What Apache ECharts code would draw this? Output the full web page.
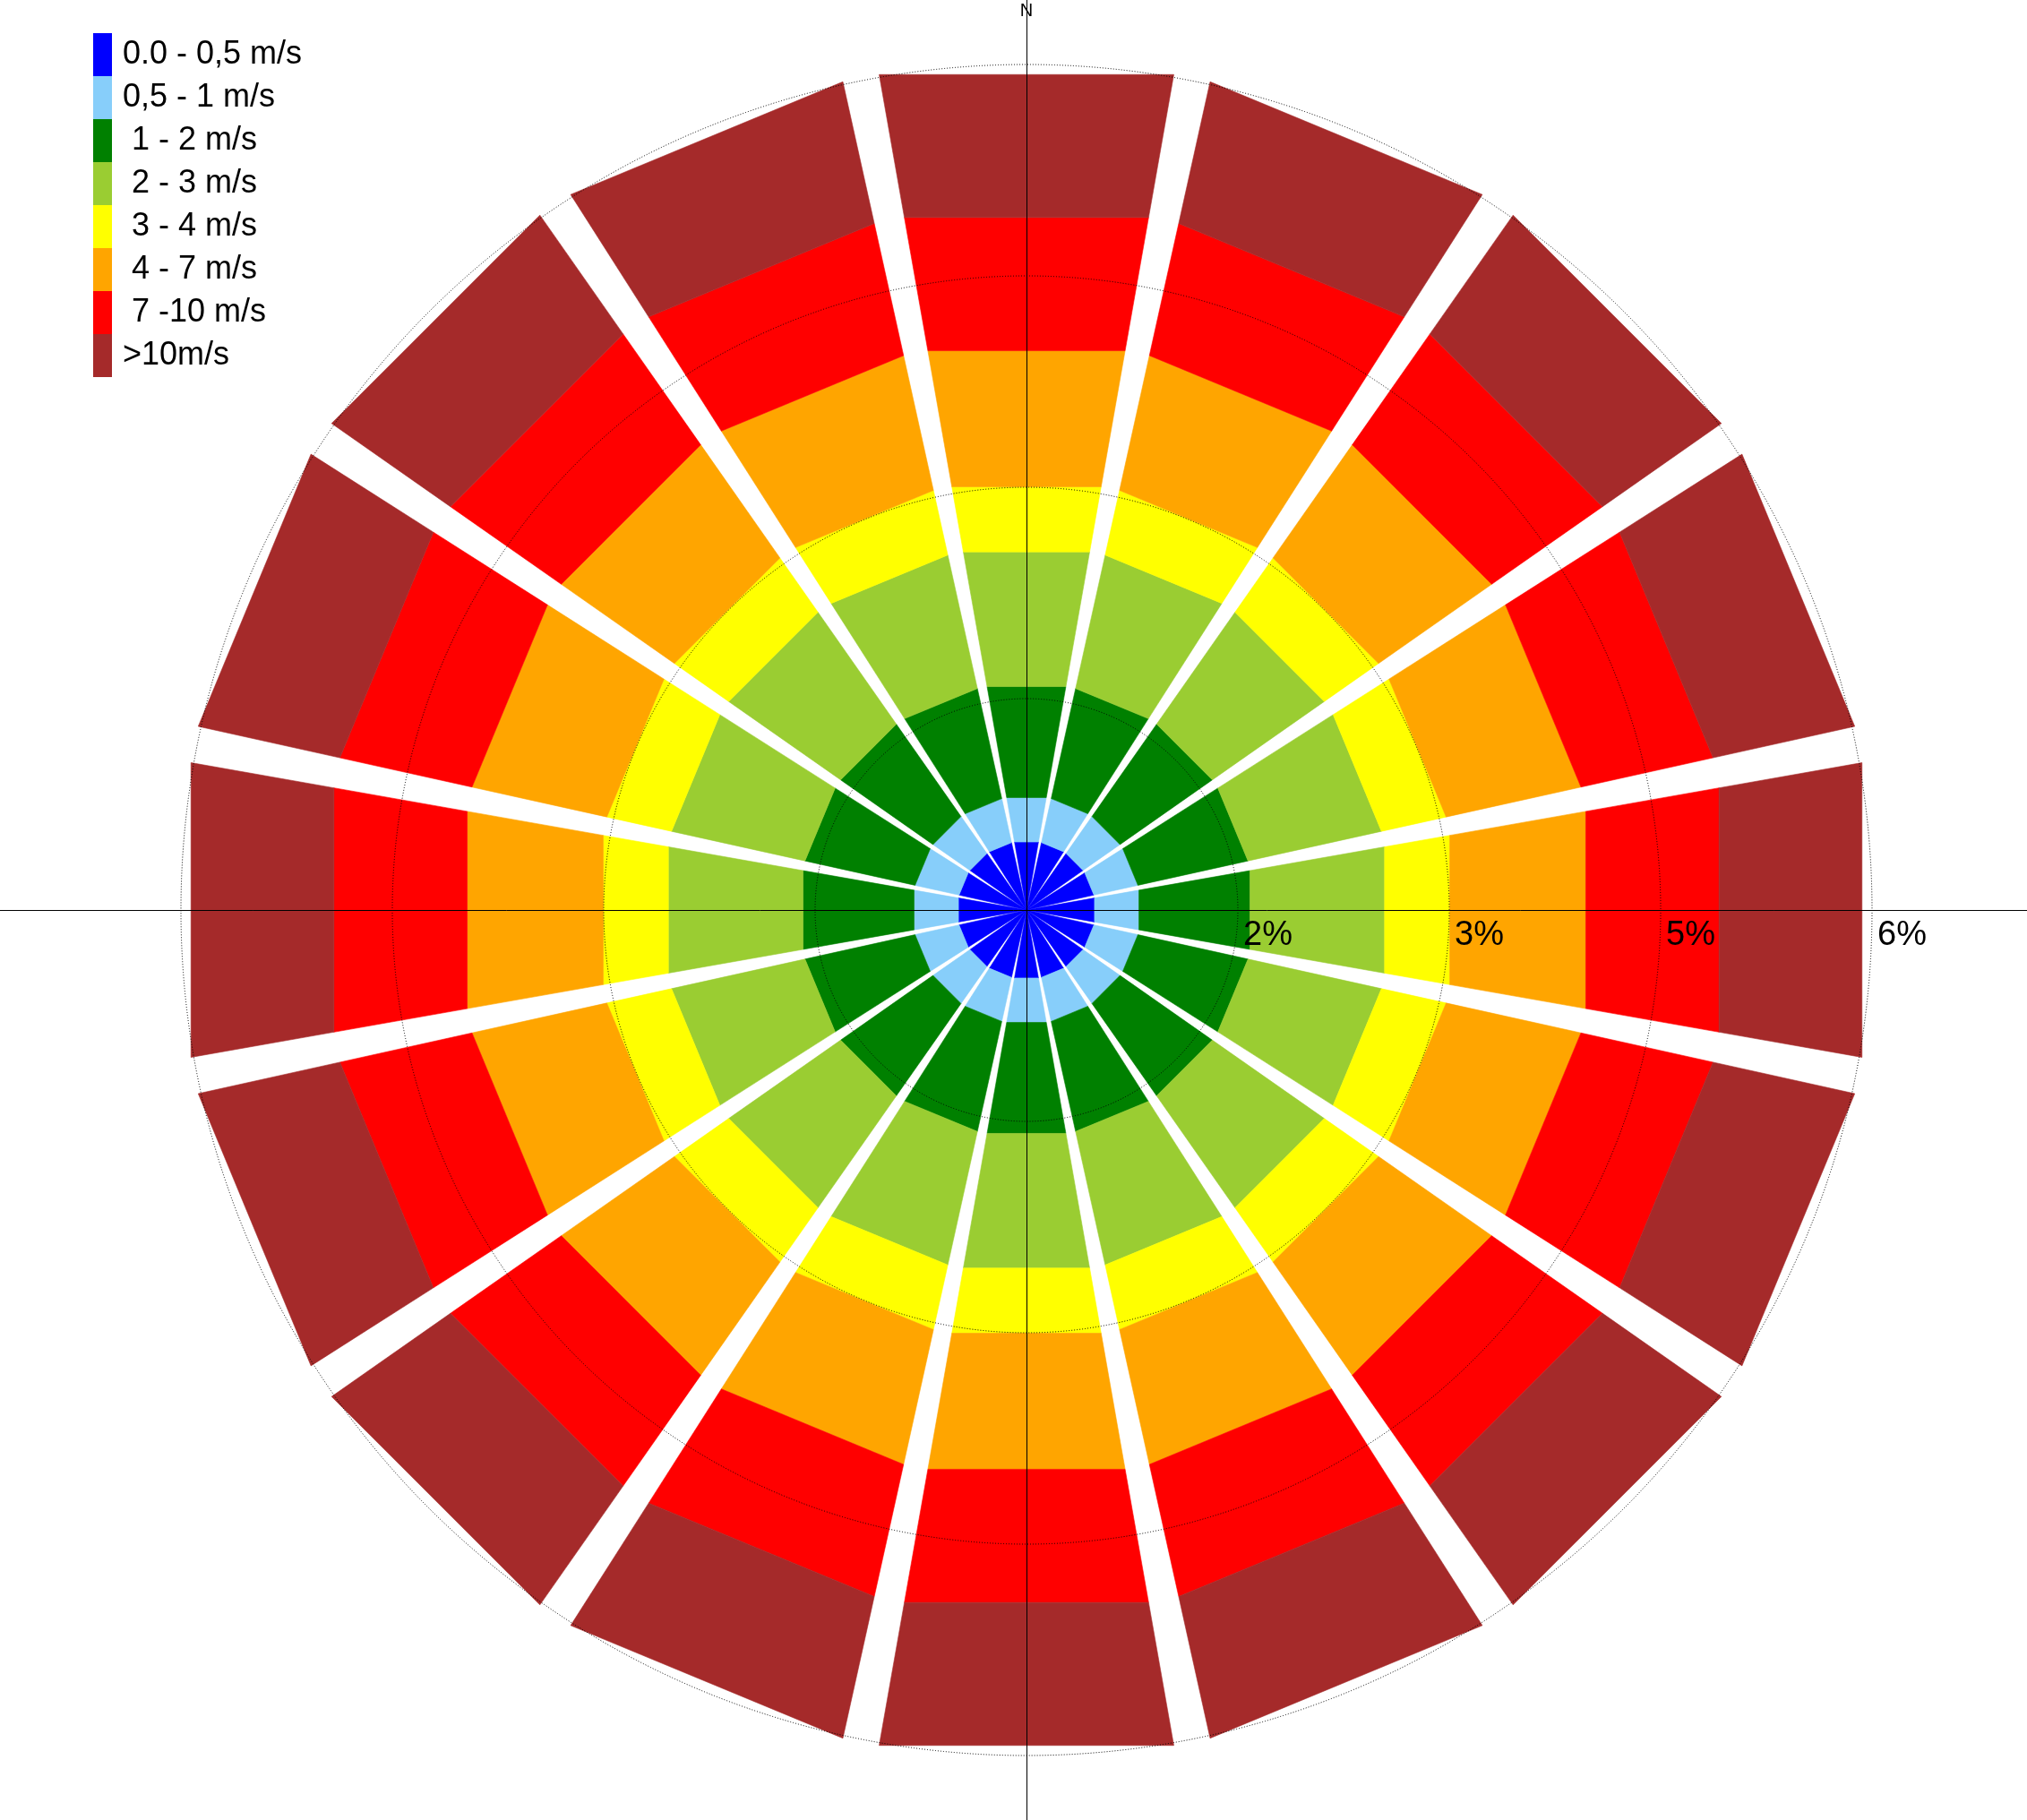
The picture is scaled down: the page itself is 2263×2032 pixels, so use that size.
<!DOCTYPE html>
<html>
<head>
<meta charset="utf-8">
<script src="https://cdn.jsdelivr.net/npm/echarts@6/dist/echarts.min.js"></script>
<style>
  html, body { margin: 0; padding: 0; background: #fff; }
  #roseChart { width: 2263px; height: 2032px; }
</style>
</head>
<body>
<div id="roseChart"></div>
<script>
// wind directions, clockwise from north
const directions = ['N', 'NNE', 'NE', 'ENE', 'E', 'ESE', 'SE', 'SSE', 'S', 'SSW', 'SW', 'WSW', 'W', 'WNW', 'NW', 'NNW'];
const speedClasses = ['0.0 - 0,5 m/s', '0,5 - 1 m/s', ' 1 - 2 m/s', ' 2 - 3 m/s', ' 3 - 4 m/s', ' 4 - 7 m/s', ' 7 -10 m/s', '>10m/s'];
const classColors = ['#0000ff', '#87cefa', '#008000', '#9acd32', '#ffff00', '#ffa500', '#ff0000', '#a52a2a'];

// frequency (%) of each speed class per direction
const freq0to05 = [0.49, 0.49, 0.49, 0.49, 0.49, 0.49, 0.49, 0.49, 0.49, 0.49, 0.49, 0.49, 0.49, 0.49, 0.49, 0.49];
const freq05to1 = [0.32, 0.32, 0.32, 0.32, 0.32, 0.32, 0.32, 0.32, 0.32, 0.32, 0.32, 0.32, 0.32, 0.32, 0.32, 0.32];
const freq1to2 = [0.80, 0.80, 0.80, 0.80, 0.80, 0.80, 0.80, 0.80, 0.80, 0.80, 0.80, 0.80, 0.80, 0.80, 0.80, 0.80];
const freq2to3 = [0.97, 0.97, 0.97, 0.97, 0.97, 0.97, 0.97, 0.97, 0.97, 0.97, 0.97, 0.97, 0.97, 0.97, 0.97, 0.97];
const freq3to4 = [0.47, 0.47, 0.47, 0.47, 0.47, 0.47, 0.47, 0.47, 0.47, 0.47, 0.47, 0.47, 0.47, 0.47, 0.47, 0.47];
const freq4to7 = [0.98, 0.98, 0.98, 0.98, 0.98, 0.98, 0.98, 0.98, 0.98, 0.98, 0.98, 0.98, 0.98, 0.98, 0.98, 0.98];
const freq7to10 = [0.96, 0.96, 0.96, 0.96, 0.96, 0.96, 0.96, 0.96, 0.96, 0.96, 0.96, 0.96, 0.96, 0.96, 0.96, 0.96];
const freqOver10 = [1.03, 1.03, 1.03, 1.03, 1.03, 1.03, 1.03, 1.03, 1.03, 1.03, 1.03, 1.03, 1.03, 1.03, 1.03, 1.03];

const radiusMax = 6;
const radiusStep = 1.5;

const CX = 1146, CY = 1016, R = 944;
const HALF_WIDTH = 10; // degrees, half of a sector
const FONT = 'Arial, "Liberation Sans", sans-serif';

const classData = [freq0to05, freq05to1, freq1to2, freq2to3, freq3to4, freq4to7, freq7to10, freqOver10];

// compass degrees -> angle axis value (axis starts at east, runs clockwise)
function dirToAngle(i) {
  return (i * 360 / directions.length + 270) % 360;
}

function renderItem(params, api) {
  const a = api.value(0);
  const r0 = api.value(1);
  const r1 = api.value(2);
  const color = api.visual('color');
  const pts = [
    api.coord([r0, a - HALF_WIDTH]),
    api.coord([r1, a - HALF_WIDTH]),
    api.coord([r1, a + HALF_WIDTH]),
    api.coord([r0, a + HALF_WIDTH])
  ];
  return {
    type: 'polygon',
    shape: { points: pts },
    style: { fill: color, stroke: color, lineWidth: 0.6 }
  };
}

const cumulative = directions.map(() => 0);
const series = classData.map((vals, k) => {
  const data = vals.map((v, i) => {
    const base = cumulative[i];
    cumulative[i] += v;
    return [dirToAngle(i), base, cumulative[i]];
  });
  return {
    name: speedClasses[k],
    type: 'custom',
    coordinateSystem: 'polar',
    itemStyle: { color: classColors[k] },
    encode: { angle: 0, radius: 2 },
    renderItem: renderItem,
    data: data,
    silent: true
  };
});

const chart = echarts.init(document.getElementById('roseChart'));
chart.setOption({
  backgroundColor: '#fff',
  animation: false,
  legend: {
    orient: 'vertical',
    left: 104,
    top: 37,
    padding: 0,
    itemWidth: 21,
    itemHeight: 48,
    itemGap: 0,
    icon: 'rect',
    selectedMode: false,
    data: speedClasses.map((n, k) => ({ name: n, itemStyle: { color: classColors[k] } })),
    textStyle: { color: '#000', fontSize: 36, fontFamily: FONT, padding: [0, 0, 0, 7] }
  },
  polar: { center: [CX, CY], radius: R },
  angleAxis: {
    type: 'value',
    min: 0,
    max: 360,
    startAngle: 0,
    clockwise: true,
    axisLine: { show: false },
    axisTick: { show: false },
    axisLabel: { show: false },
    splitLine: { show: false }
  },
  radiusAxis: {
    type: 'value',
    min: 0,
    max: radiusMax,
    interval: radiusStep,
    z: 10,
    axisLine: { show: false },
    axisTick: { show: false },
    axisLabel: {
      showMinLabel: false,
      color: '#000',
      fontSize: 38,
      fontFamily: FONT,
      align: 'left',
      verticalAlign: 'top',
      margin: 8,
      padding: [18, 0, 0, 6],
      formatter: v => Math.round(v) + '%'
    },
    splitLine: { show: true, lineStyle: { color: '#000', type: [1, 2], width: 1 } }
  },
  series: series,
  graphic: [
    { type: 'line', z: 100, silent: true, shape: { x1: 0, y1: CY + 0.5, x2: 2263, y2: CY + 0.5 }, style: { stroke: '#000', lineWidth: 1 } },
    { type: 'line', z: 100, silent: true, shape: { x1: CX + 0.5, y1: 0, x2: CX + 0.5, y2: 2032 }, style: { stroke: '#000', lineWidth: 1 } },
    { type: 'text', z: 100, silent: true, x: CX, y: 2, style: { text: 'N', fill: '#000', font: '20px ' + FONT, textAlign: 'center', textVerticalAlign: 'top' } }
  ]
});
</script>
</body>
</html>
